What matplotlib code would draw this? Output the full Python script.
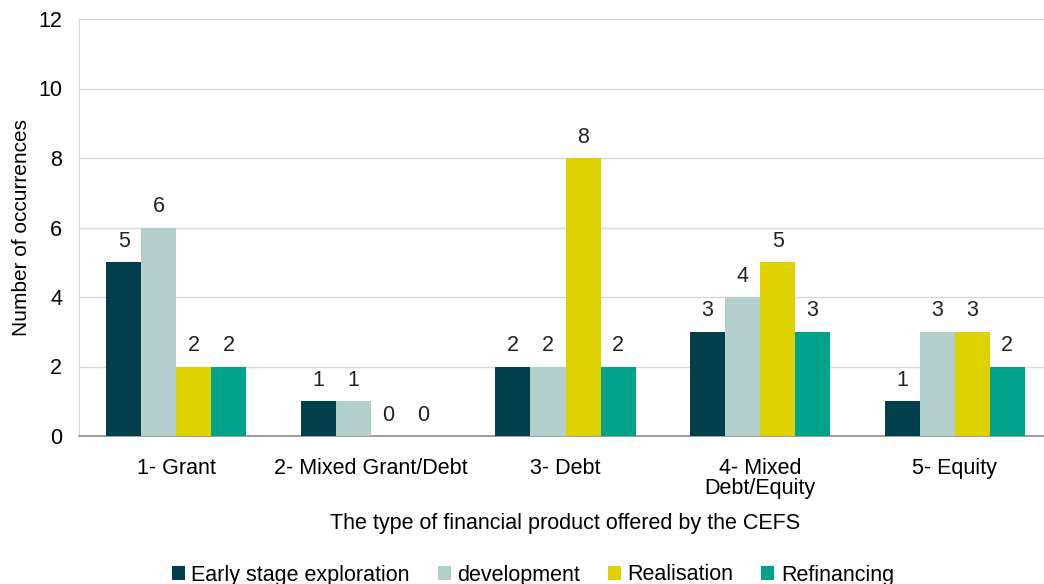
import numpy as np
import matplotlib
matplotlib.use("Agg")
import matplotlib.pyplot as plt

plt.rcParams['font.family'] = ['Liberation Sans', 'DejaVu Sans']

categories = ['1- Grant', '2- Mixed Grant/Debt', '3- Debt', '4- Mixed\nDebt/Equity', '5- Equity']
series_names = ['Early stage exploration', 'development', 'Realisation', 'Refinancing']
early = [5, 1, 2, 3, 1]
development = [6, 1, 2, 4, 3]
realisation = [2, 0, 8, 5, 3]
refinancing = [2, 0, 2, 3, 2]
colors = ['#003F4B', '#B3CFCC', '#DDD200', '#00A389']

values = [early, development, realisation, refinancing]
fs = 15.5

fig = plt.figure(figsize=(10.44, 5.84), dpi=100)
ax = fig.add_axes([79 / 1044, 1 - 436 / 584, 973 / 1044, (436 - 19) / 584])

x = np.arange(len(categories))
w = 0.18
for i, (vals, name, c) in enumerate(zip(values, series_names, colors)):
    pos = x + (i - 1.5) * w
    ax.bar(pos, vals, width=w, color=c, label=name, zorder=3)
    for xp, v in zip(pos, vals):
        ax.text(xp, v + 0.3, str(v), ha='center', va='bottom', fontsize=fs, color='#222222')

ax.set_xlim(-0.5, len(categories) - 0.5)
ax.set_ylim(0, 12)
ax.set_yticks(range(0, 13, 2))
ax.yaxis.grid(True, color='#D9D9D9', linewidth=1, zorder=0)
ax.set_xticks(x)
ax.set_xticklabels(categories, fontsize=fs, linespacing=0.95)
ax.tick_params(axis='y', labelsize=fs, length=0, pad=12)
ax.tick_params(axis='x', length=0, pad=16)
for s in ['top', 'right']:
    ax.spines[s].set_visible(False)
ax.spines['left'].set_color('#D9D9D9')
ax.spines['bottom'].set_color('#8C8C8C')
ax.spines['bottom'].set_linewidth(1.2)

ax.set_xlabel('The type of financial product offered by the CEFS', fontsize=fs, labelpad=10)
ax.set_ylabel('Number of occurrences', fontsize=15, labelpad=5)

fig.legend(loc='center', bbox_to_anchor=(533 / 1044, 1 - 575 / 584), ncol=4, frameon=False,
           fontsize=fs, handlelength=0.6, handleheight=0.6, handletextpad=0.3, columnspacing=1.3)

fig.savefig('out.png', dpi=100)
